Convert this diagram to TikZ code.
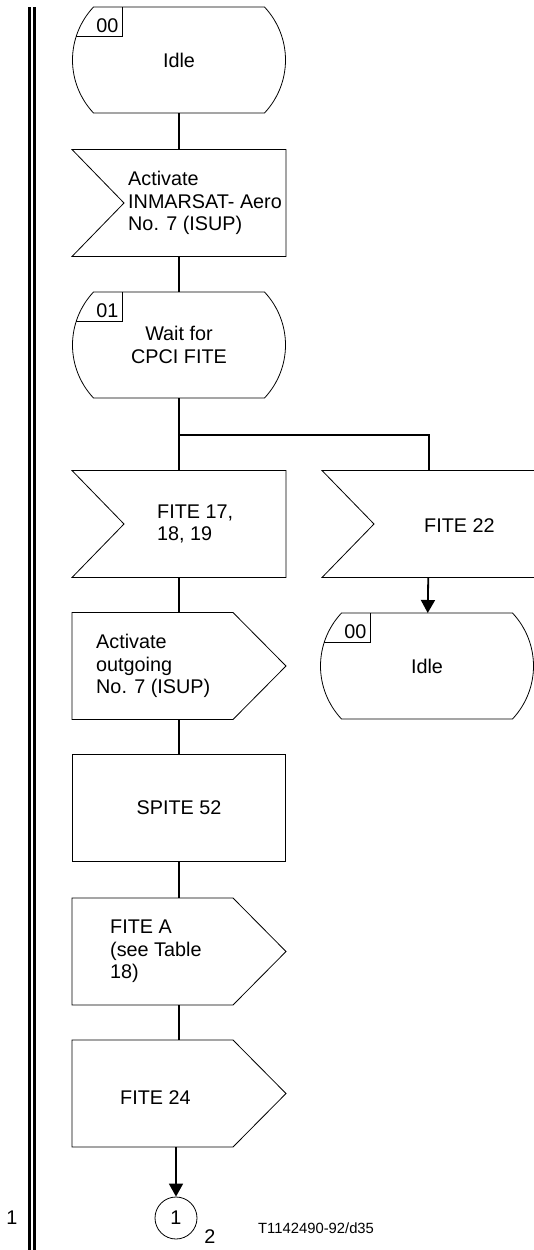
\documentclass[tikz,border=0pt]{standalone}
\usepackage{fontspec}
\setmainfont{Liberation Sans}
\usetikzlibrary{calc,arrows.meta}
\newcommand\txtfont{\fontsize{19.8}{22.5}\selectfont}
\newcommand\smallfont{\fontsize{14.8}{16}\selectfont}
% SDL state outline: #1 node name, #2 state number
\newcommand\sdlstate[2]{%
  \draw[outl] ($(#1.north west)+(21,0)$) -- ($(#1.north east)+(-21,0)$)
    .. controls ($(#1.north east)+(7,30)$) and ($(#1.south east)+(7,-30)$) .. ($(#1.south east)+(-21,0)$)
    -- ($(#1.south west)+(21,0)$)
    .. controls ($(#1.south west)+(-7,-30)$) and ($(#1.north west)+(-7,30)$) .. cycle;
  \draw[outl] ($(#1.north west)+(50,0)$) -- ($(#1.north west)+(50,29)$) -- ($(#1.north west)+(3.7,29)$);
  \node[txt, anchor=base east] (#1lab) at ($(#1.north west)+(46,25)$) {#2};
}
\newcommand\sdlinput[1]{%
  \draw[outl] (#1.north west) -- (#1.north east) -- (#1.south east) -- (#1.south west)
    -- ($(#1.west)+(52,0)$) -- cycle;}
\newcommand\sdloutput[1]{%
  \draw[outl] (#1.north west) -- ($(#1.north east)+(-53,0)$) -- (#1.east)
    -- ($(#1.south east)+(-53,0)$) -- (#1.south west) -- cycle;}
\begin{document}
\begin{tikzpicture}[x=1pt,y=-1pt,
  shp/.style={draw=none, minimum width=214pt, minimum height=107pt, inner sep=0pt, outer sep=0pt, font=\txtfont, align=center},
  st/.style={shp, minimum width=213pt, minimum height=106pt},
  proc/.style={shp, draw=black, line width=0.8pt, minimum width=213pt},
  txt/.style={font=\txtfont, align=left, inner sep=0pt},
  outl/.style={draw=black, line width=0.8pt, line join=miter},
  conn/.style={draw=black, line width=1.8pt},
  arr/.style={conn, -{Triangle[width=14pt,length=13pt]}},
  dbl/.style={draw=black, line width=2.2pt},
]
\fill[white] (0,0) rectangle (533,1250);
\useasboundingbox (0,0) rectangle (533,1250);

% left border double line
\coordinate (la1) at (29.5,7);
\coordinate (la2) at (29.5,1250);
\coordinate (lb1) at (34.5,7);
\coordinate (lb2) at (34.5,1250);
\draw[dbl] (la1) -- (la2);
\draw[dbl] (lb1) -- (lb2);

% main column
\node[st] (s0) at (179,60) {Idle};
\sdlstate{s0}{00}

\node[shp] (i1) at (179,203) {};
\sdlinput{i1}
\node[txt, anchor=west] (i1t) at ($(i1.west)+(56,0)$) {Activate\\INMARSAT- Aero\\No. 7 (ISUP)};

\node[st] (s1) at (179,345) {Wait for\\CPCI FITE};
\sdlstate{s1}{01}

\coordinate (br) at (179,435);

\node[shp] (i2) at (179,524) {};
\sdlinput{i2}
\node[txt, anchor=west] (i2t) at ($(i2.west)+(85,0)$) {FITE 17,\\18, 19};

\node[shp] (i3) at (429,524) {};
\sdlinput{i3}
\node[txt, anchor=west] (i3t) at ($(i3.west)+(102,2)$) {FITE 22};

\node[st] (s2) at (427,666) {Idle};
\sdlstate{s2}{00}

\node[shp] (o1) at (179,666) {};
\sdloutput{o1}
\node[txt, anchor=west] (o1t) at ($(o1.west)+(24,0)$) {Activate\\outgoing\\No. 7 (ISUP)};

\node[proc] (p1) at (179,807.5) {SPITE 52};

\node[shp] (o2) at (179,951.5) {};
\sdloutput{o2}
\node[txt, anchor=west] (o2t) at ($(o2.west)+(38,0)$) {FITE A\\(see Table\\18)};

\node[shp] (o3) at (179,1093.5) {};
\sdloutput{o3}
\node[txt, anchor=west] (o3t) at ($(o3.west)+(48,4)$) {FITE 24};

\node[draw=black, line width=0.8pt, circle, minimum size=42pt, inner sep=0pt, font=\txtfont] (c1) at (176,1218) {1};

% connectors
\draw[conn] (s0) -- (i1);
\draw[conn] (i1) -- (s1);
\draw[conn] (s1) -- (i2);
\draw[conn] (br) -| (i3.north);
\draw[arr] (i3) -- (s2);
\draw[conn] (i2) -- (o1);
\draw[conn] (o1) -- (p1);
\draw[conn] (p1) -- (o2);
\draw[conn] (o2) -- (o3);
\draw[arr] (o3.south -| c1) -- (c1);

% side labels
\node[txt] (pg1) at (12,1218) {1};
\node[txt] (pg2) at (210,1237) {2};
\node[font=\smallfont, inner sep=0pt, anchor=west] (ref) at (258,1228) {T1142490-92/d35};
\end{tikzpicture}
\end{document}
